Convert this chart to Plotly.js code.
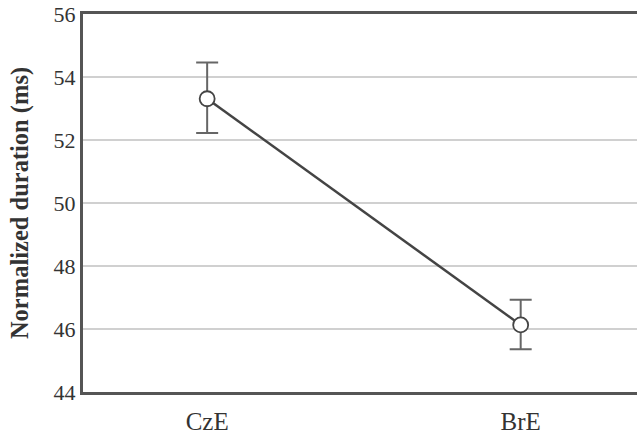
<!DOCTYPE html>
<html>
<head>
<meta charset="utf-8">
<script src="https://cdn.plot.ly/plotly-3.0.1.min.js"></script>
<style>html,body{margin:0;padding:0;background:#fff;}#chart{width:637px;height:435px;}</style>
</head>
<body>
<div id="chart"></div>
<script>
const categories = ["CzE", "BrE"];
const means = [53.31, 46.13];
const errUpper = [54.46, 46.93];
const errLower = [52.22, 45.36];
const yTicks = [44, 46, 48, 50, 52, 54, 56];

const plus = means.map((m, i) => errUpper[i] - m);
const minus = means.map((m, i) => m - errLower[i]);

const trace = {
  x: categories,
  y: means,
  type: "scatter",
  mode: "lines+markers",
  line: {color: "#444444", width: 2.5},
  marker: {symbol: "circle", size: 15, color: "#ffffff", line: {color: "#444444", width: 1.8}},
  error_y: {type: "data", symmetric: false, array: plus, arrayminus: minus, color: "#666666", thickness: 2, width: 11}
};

const layout = {
  width: 637, height: 435,
  margin: {l: 83, r: 0, t: 14, b: 43},
  paper_bgcolor: "#ffffff", plot_bgcolor: "#ffffff",
  showlegend: false,
  font: {family: "Liberation Serif, Times New Roman, serif", color: "#333333", size: 23},
  xaxis: {
    type: "category",
    range: [-0.396, 1.371],
    showgrid: false, zeroline: false,
    showline: true, linecolor: "#555555", linewidth: 3, mirror: true,
    ticks: "", ticklabelstandoff: 5,
    tickfont: {size: 25, color: "#333333"}
  },
  yaxis: {
    range: [44, 56],
    tickvals: yTicks,
    ticktext: yTicks.map(String),
    showgrid: true, gridcolor: "#d0d0d0", gridwidth: 1.5,
    zeroline: false,
    showline: true, linecolor: "#555555", linewidth: 3,
    ticks: "", ticklabelstandoff: 0,
    tickfont: {size: 22, color: "#333333"},
    title: {text: "<b>Normalized duration (ms)</b>", font: {size: 24.5, color: "#333333"}, standoff: 19}
  }
};

Plotly.newPlot("chart", [trace], layout, {displayModeBar: false, staticPlot: true});
</script>
</body>
</html>
